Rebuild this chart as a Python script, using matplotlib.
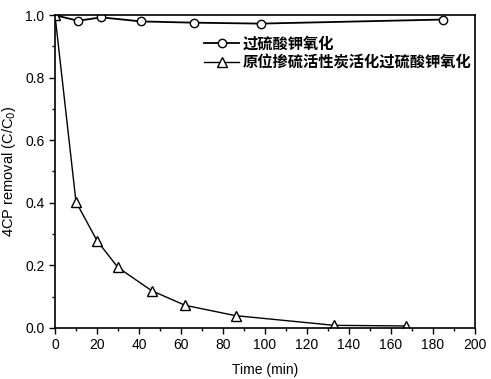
import matplotlib
matplotlib.use('Agg')
import matplotlib.pyplot as plt
from matplotlib.ticker import MultipleLocator

plt.rcParams['font.family'] = ['Liberation Sans', 'Noto Sans CJK SC', 'DejaVu Sans']

# data
t_pms   = [0, 11, 22, 41, 66, 98, 185]
c_pms   = [1.0, 0.982, 0.993, 0.980, 0.976, 0.973, 0.986]
t_act   = [0, 10, 20, 30, 46, 62, 86, 133, 167]
c_act   = [1.0, 0.403, 0.279, 0.193, 0.119, 0.072, 0.039, 0.008, 0.006]
labels  = ['过硫酸钾氧化', '原位掺硫活性炭活化过硫酸钾氧化']

fig = plt.figure(figsize=(4.91, 3.79), dpi=100)
ax = fig.add_axes([0.112, 0.135, 0.855, 0.825])

ax.plot(t_pms, c_pms, '-o', color='black', lw=1.3, ms=6,
        mfc='white', mec='black', mew=1.0, label=labels[0])
ax.plot(t_act, c_act, '-^', color='black', lw=1.0, ms=7,
        mfc='white', mec='black', mew=1.0, label=labels[1])

ax.set_xlim(0, 200)
ax.set_ylim(0, 1.0)
ax.xaxis.set_major_locator(MultipleLocator(20))
ax.xaxis.set_minor_locator(MultipleLocator(10))
ax.yaxis.set_major_locator(MultipleLocator(0.2))
ax.yaxis.set_minor_locator(MultipleLocator(0.1))
ax.tick_params(which='both', direction='out', top=False, right=False, labelsize=10)
ax.tick_params(which='major', length=4, width=1)
ax.tick_params(which='minor', length=2.5, width=1)
for s in ax.spines.values():
    s.set_linewidth(1.2)

ax.set_xlabel('Time (min)', fontsize=10, labelpad=8)
ax.set_ylabel(r'4CP removal (C/C$_0$)', fontsize=10.5, labelpad=5)

leg = ax.legend(loc='upper left', bbox_to_anchor=(0.355, 0.935), frameon=False,
                handlelength=2.3, handletextpad=0.25,
                labelspacing=0.2, borderaxespad=0, borderpad=0,
                prop={'family': ['Noto Sans CJK SC'], 'weight': 'bold', 'size': 11})

plt.savefig('out.png', dpi=100)
